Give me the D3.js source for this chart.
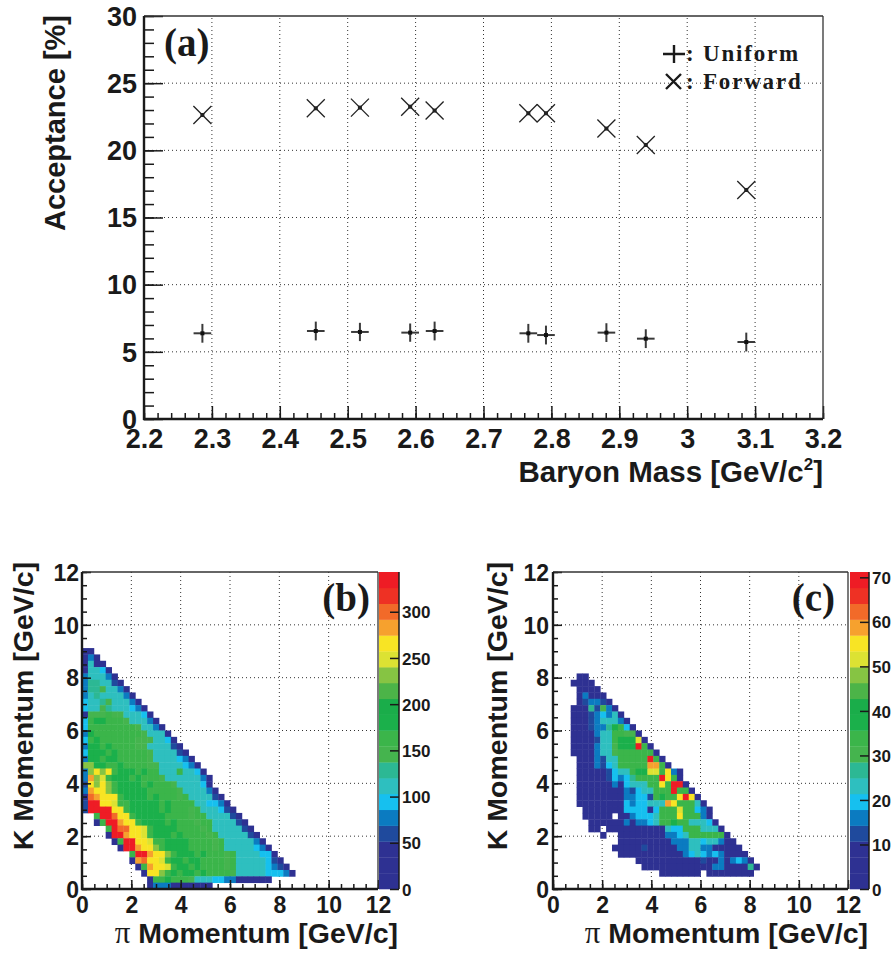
<!DOCTYPE html>
<html>
<head>
<meta charset="utf-8">
<script src="https://cdn.jsdelivr.net/npm/d3@7/dist/d3.min.js"></script>
<style>
body { margin: 0; background: #fff; }
</style>
</head>
<body>
<svg id="fig" width="893" height="958"></svg>
<script>
/////////////////////////
// data
/////////////////////////

// (a) acceptance vs baryon mass
var baryonMass = [2.286, 2.453, 2.518, 2.592, 2.628, 2.766, 2.792, 2.881, 2.939, 3.087];
var massErr    = [0.013, 0.013, 0.013, 0.013, 0.013, 0.013, 0.013, 0.013, 0.013, 0.013];
var uniformAcc = [6.38, 6.55, 6.48, 6.43, 6.55, 6.38, 6.25, 6.43, 5.98, 5.73];
var uniformErr = [0.70, 0.70, 0.68, 0.68, 0.70, 0.70, 0.70, 0.70, 0.70, 0.70];
var forwardAcc = [22.63, 23.13, 23.18, 23.25, 22.96, 22.76, 22.76, 21.62, 20.40, 17.05];
var massTicks = [2.2, 2.3, 2.4, 2.5, 2.6, 2.7, 2.8, 2.9, 3, 3.1, 3.2];
var accTicks = [0, 5, 10, 15, 20, 25, 30];

// (b),(c) pi vs K momentum, 50x50 bins of 0.24 GeV/c
// one string per y bin (top bin first), one char per x bin: colour level 0..j (base 36), "." = empty
var momTicks = [0, 2, 4, 6, 8, 10, 12];
var binW = 0.24;

var uniformTopBin = 37;
var uniformZMax = 343;
var uniformZTicks = [0, 50, 100, 150, 200, 250, 300];
var uniformRows = [
  "00",
  "040",
  "0600",
  "06650",
  "466640",
  "4776630",
  "47786640",
  "467666640",
  "5667866640",
  "56687666540",
  "088898866650",
  "59aa999866640",
  "59999999986640",
  "4a9999999986660",
  "59a9999998886650",
  "4aa9a999988666630",
  "5aaa9a999998666630",
  "4aa9aa9999986666540",
  "ddaa99a9999886666540",
  "4dfdf9aaa9a9966696650",
  "4gde9aaa9a999866666640",
  "3fdfd9aaaa9a9998666650",
  "4gffd9aaaaa999998666640",
  "0hgfff9aaaa9a99989666630",
  "3jjffe99aaaaa9a9999665540",
  "3jjjjff9aaaaa9a99989666530",
  "..9jjhff9aaaaa9999899666630",
  "..09jjgff9aaaa9a999899666630",
  "....9jhhffe9aaaa9999896666630",
  "....0jjgffe9aaa9a9999896666630",
  ".....09jjffe99aaaa9999896666640",
  "......0jjgffd9aaaa99998966666540",
  "........9jjgffd9aaa9a999896666550",
  "........0ghffe9aa9aa99998966666530",
  ".........09gffe9aa9a999989666665430",
  "..........0ffd9a9aa9a999986666655540",
  "...........099a99986665544000000",
  "...........04440000000"
];

var forwardTopBin = 33;
var forwardZMax = 71.2;
var forwardZTicks = [0, 10, 20, 30, 40, 50, 60, 70];
var forwardRows = [
  "....00",
  "...0000",
  "....0000",
  "....04000",
  "....034430",
  "...00073840",
  "...000345460",
  "...0003466640",
  "...0003447a950",
  "...000046699880",
  "...00003669aaae0",
  "...00004668aaaj90",
  "...000046689999990",
  "....000436699999j90",
  "....000435699999gg90",
  "....0000035669aaee9f40",
  "....00000354579999jf90",
  "....00000040566699f9jj0",
  "....0000000043566999j990",
  "....00000000445539a99fjf0",
  "....000000005455666gf99960",
  ".....0000000555505999e99540",
  ".....00000.0045556999f99940",
  "......00000040445699a9966650",
  "......00.00000000006559996660",
  "........0..0000000044569999990",
  "...........00000000044466566400",
  "..........0000030000044664400000",
  "...........0000000000045654540000",
  "..............00000000000300404540",
  "...............00000000000044000070",
  "..................0000000.00000000"
];

// ROOT style palette, 20 contour levels
var palette = ["#2e3192", "#2e3192", "#2e3192", "#1f4a9d", "#0b7bc1", "#16c0ef", "#2ebfbf",
  "#2cb894", "#45b44e", "#3bb54a", "#1bb04b", "#1aad4a", "#4cb448", "#86c443",
  "#dce233", "#f8e424", "#f6a12e", "#f26a29", "#ee3124", "#ee1c25"];

var SANS = "'Liberation Sans', Arial, Helvetica, sans-serif";
var SERIF = "'Liberation Serif', 'Times New Roman', serif";
var INK = "#1a1a1a";

var svg = d3.select("#fig");

/////////////////////////
// helpers
/////////////////////////

function styleAxis(g, size) {
  g.select(".domain").remove();
  g.selectAll(".tick line").attr("stroke", INK).attr("stroke-width", 1.5);
  g.attr("font-family", SANS).attr("font-size", size).attr("font-weight", "bold");
  g.selectAll("text").attr("fill", INK);
}

function grid(g, x, y, xs, ys) {
  var x0 = x.range()[0], x1 = x.range()[1], y0 = y.range()[0], y1 = y.range()[1];
  g.append("g").selectAll("line").data(xs).enter().append("line")
    .attr("x1", function(d) { return x(d); }).attr("x2", function(d) { return x(d); })
    .attr("y1", y0).attr("y2", y1);
  g.append("g").selectAll("line").data(ys).enter().append("line")
    .attr("y1", function(d) { return y(d); }).attr("y2", function(d) { return y(d); })
    .attr("x1", x0).attr("x2", x1);
  g.selectAll("line").attr("stroke", "#333").attr("stroke-width", 1)
    .attr("stroke-dasharray", "1,3");
}

function frame(g, x, y) {
  var x0 = x.range()[0], x1 = x.range()[1], y0 = y.range()[0], y1 = y.range()[1];
  g.append("line").attr("x1", x0).attr("x2", x1).attr("y1", y1).attr("y2", y1)
    .attr("stroke", "#333").attr("stroke-width", 1.3);
  g.append("line").attr("x1", x1).attr("x2", x1).attr("y1", y0).attr("y2", y1)
    .attr("stroke", "#333").attr("stroke-width", 1.3);
  g.append("line").attr("x1", x0).attr("x2", x0).attr("y1", y0 + 1).attr("y2", y1)
    .attr("stroke", INK).attr("stroke-width", 2.4);
  g.append("line").attr("x1", x0 - 1).attr("x2", x1).attr("y1", y0).attr("y2", y0)
    .attr("stroke", INK).attr("stroke-width", 2.4);
}

function axes(g, x, y, o) {
  var y0 = y.range()[0], x0 = x.range()[0];
  g.append("g").attr("transform", "translate(0," + y0 + ")")
    .call(d3.axisBottom(x).tickValues(o.xMinor).tickSize(-o.minorX).tickFormat(""))
    .call(function(s) { styleAxis(s, o.font); });
  g.append("g").attr("transform", "translate(0," + y0 + ")")
    .call(d3.axisBottom(x).tickValues(o.xMajor).tickSize(-o.majorX).tickPadding(o.xPad)
      .tickFormat(function(d) { return String(d); }))
    .call(function(s) { styleAxis(s, o.font); });
  g.append("g").attr("transform", "translate(" + x0 + ",0)")
    .call(d3.axisLeft(y).tickValues(o.yMinor).tickSize(-o.minorY).tickFormat(""))
    .call(function(s) { styleAxis(s, o.font); });
  g.append("g").attr("transform", "translate(" + x0 + ",0)")
    .call(d3.axisLeft(y).tickValues(o.yMajor).tickSize(-o.majorY).tickPadding(o.yPad)
      .tickFormat(function(d) { return String(d); }))
    .call(function(s) { styleAxis(s, o.font); s.selectAll("text").attr("dy", o.yDy); });
}

/////////////////////////
// panel (a)
/////////////////////////

var xA = d3.scaleLinear().domain([2.2, 3.2]).range([144, 823]);
var yA = d3.scaleLinear().domain([0, 30]).range([419, 16]);
var gA = svg.append("g").attr("id", "panelA");

grid(gA, xA, yA, massTicks.slice(1, -1), accTicks.slice(1, -1));
axes(gA, xA, yA, {
  xMinor: d3.range(0, 51).map(function(k) { return 2.2 + k * 0.02; }),
  xMajor: massTicks, yMinor: d3.range(0, 31), yMajor: accTicks,
  minorX: 6, majorX: 13, minorY: 10, majorY: 19, xPad: 10, yPad: 7, font: 27, yDy: "0.34em"
});
frame(gA, xA, yA);

var pts = baryonMass.map(function(m, k) {
  return { m: m, dm: massErr[k], u: uniformAcc[k], du: uniformErr[k], f: forwardAcc[k] };
});

// uniform: crosses with error bars
var gU = gA.append("g").attr("class", "uniform");
gU.selectAll(".ex").data(pts).enter().append("line")
  .attr("x1", function(d) { return xA(d.m - d.dm); }).attr("x2", function(d) { return xA(d.m + d.dm); })
  .attr("y1", function(d) { return yA(d.u); }).attr("y2", function(d) { return yA(d.u); });
gU.selectAll(".ey").data(pts).enter().append("line")
  .attr("x1", function(d) { return xA(d.m); }).attr("x2", function(d) { return xA(d.m); })
  .attr("y1", function(d) { return yA(d.u - d.du); }).attr("y2", function(d) { return yA(d.u + d.du); });
gU.selectAll("line").attr("stroke", "#3a3a3a").attr("stroke-width", 2);
gU.selectAll("rect").data(pts).enter().append("rect")
  .attr("x", function(d) { return xA(d.m) - 2; }).attr("y", function(d) { return yA(d.u) - 2; })
  .attr("width", 4).attr("height", 4).attr("fill", "#111");

// forward: x markers
var gF = gA.append("g").attr("class", "forward");
gF.selectAll("path").data(pts).enter().append("path")
  .attr("transform", function(d) { return "translate(" + xA(d.m) + "," + yA(d.f) + ")"; })
  .attr("d", "M-9,-9L9,9M-9,9L9,-9")
  .attr("stroke", "#222").attr("stroke-width", 1.3).attr("fill", "none");
gF.selectAll("rect").data(pts).enter().append("rect")
  .attr("x", function(d) { return xA(d.m) - 2; }).attr("y", function(d) { return yA(d.f) - 2; })
  .attr("width", 4).attr("height", 4).attr("fill", "#222");

// legend
var leg = gA.append("g").attr("font-family", SERIF).attr("font-weight", "bold")
  .attr("font-size", 23).attr("fill", INK).attr("letter-spacing", 1.8);
leg.append("path").attr("d", "M663,54L685,54M674,45L674,63").attr("stroke", INK).attr("stroke-width", 2.4);
leg.append("path").attr("d", "M666,74L681,89M666,89L681,74").attr("stroke", INK).attr("stroke-width", 2.4);
leg.append("text").attr("x", 686).attr("y", 61).text(": Uniform");
leg.append("text").attr("x", 686).attr("y", 89).text(": Forward");

gA.append("text").attr("x", 164).attr("y", 56).attr("font-family", SERIF)
  .attr("font-weight", "bold").attr("font-size", 39).attr("fill", INK).text("(a)");

gA.append("text").attr("transform", "translate(65,15) rotate(-90)")
  .attr("text-anchor", "end").attr("font-family", SANS).attr("font-weight", "bold")
  .attr("font-size", 29).attr("fill", INK).text("Acceptance [%]");

var tA = gA.append("text").attr("x", 823).attr("y", 482).attr("text-anchor", "end")
  .attr("font-family", SANS).attr("font-weight", "bold").attr("font-size", 29.5).attr("fill", INK);
tA.append("tspan").text("Baryon Mass [GeV/c");
tA.append("tspan").attr("font-size", 17).attr("dy", -12).text("2");
tA.append("tspan").attr("dy", 12).text("]");

/////////////////////////
// panels (b) and (c)
/////////////////////////

function heatPanel(p) {
  var x = d3.scaleLinear().domain([0, 12]).range([p.left, p.right]);
  var y = d3.scaleLinear().domain([0, 12]).range([889, 572]);
  var z = d3.scaleLinear().domain([0, p.zMax]).range([889, 572]);
  var color = d3.scaleQuantize().domain([0, p.zMax]).range(palette);
  var g = svg.append("g").attr("id", p.id);

  grid(g, x, y, momTicks.slice(1, -1), momTicks.slice(1, -1));

  var cells = [];
  p.rows.forEach(function(row, r) {
    var j = p.top - r;
    row.split("").forEach(function(ch, i) {
      if (ch === ".") return;
      cells.push({ i: i, j: j, v: (parseInt(ch, 36) + 0.5) * p.zMax / 20 });
    });
  });
  g.append("g").selectAll("rect").data(cells).enter().append("rect")
    .attr("x", function(d) { return x(d.i * binW); })
    .attr("y", function(d) { return y((d.j + 1) * binW); })
    .attr("width", function(d) { return x((d.i + 1) * binW) - x(d.i * binW) + 0.4; })
    .attr("height", function(d) { return y(d.j * binW) - y((d.j + 1) * binW) + 0.4; })
    .attr("fill", function(d) { return color(d.v); });

  var halves = d3.range(0, 25).map(function(k) { return k * 0.5; });
  axes(g, x, y, {
    xMinor: halves, xMajor: momTicks, yMinor: halves, yMajor: momTicks,
    minorX: 5, majorX: 9, minorY: 5, majorY: 9, xPad: 8, yPad: p.yPad, font: 23, yDy: "0.36em"
  });
  frame(g, x, y);

  // colour bar
  var bands = d3.range(0, 20).map(function(k) { return k * p.zMax / 20; });
  g.append("g").selectAll("rect").data(bands).enter().append("rect")
    .attr("x", p.barLeft).attr("width", p.barRight - p.barLeft)
    .attr("y", function(d) { return z(d + p.zMax / 20); })
    .attr("height", function(d) { return z(d) - z(d + p.zMax / 20) + 0.3; })
    .attr("fill", function(d) { return color(d + p.zMax / 40); });
  g.append("line").attr("x1", p.barRight).attr("x2", p.barRight).attr("y1", 572).attr("y2", 889)
    .attr("stroke", INK).attr("stroke-width", 1.5);
  g.append("g").attr("transform", "translate(" + p.barRight + ",0)")
    .call(d3.axisRight(z).tickValues(p.zTicks).tickSize(-9).tickPadding(3))
    .call(function(s) { styleAxis(s, 17); s.selectAll("text").attr("dy", "0.36em"); });

  g.append("text").attr("x", p.labelX).attr("y", 611).attr("text-anchor", "end")
    .attr("font-family", SERIF).attr("font-weight", "bold").attr("font-size", 39)
    .attr("fill", INK).text(p.label);

  g.append("text").attr("transform", "translate(" + p.yTitleX + ",562) rotate(-90)")
    .attr("text-anchor", "end").attr("font-family", SANS).attr("font-weight", "bold")
    .attr("font-size", 28.5).attr("fill", INK).text("K Momentum [GeV/c]");

  var tx = g.append("text").attr("x", p.xTitleEnd).attr("y", 943).attr("text-anchor", "end")
    .attr("font-family", SANS).attr("font-weight", "bold").attr("font-size", 28.5).attr("fill", INK);
  tx.append("tspan").attr("font-family", SERIF).attr("font-weight", "normal").attr("font-size", 31).text("π");
  tx.append("tspan").text(" Momentum [GeV/c]");
}

heatPanel({
  id: "panelB", left: 82, right: 378, barLeft: 379, barRight: 399,
  rows: uniformRows, top: uniformTopBin, zMax: uniformZMax, zTicks: uniformZTicks,
  label: "(b)", labelX: 370, yTitleX: 33, xTitleEnd: 398, yPad: 3
});
heatPanel({
  id: "panelC", left: 553, right: 848, barLeft: 850, barRight: 869,
  rows: forwardRows, top: forwardTopBin, zMax: forwardZMax, zTicks: forwardZTicks,
  label: "(c)", labelX: 835, yTitleX: 507, xTitleEnd: 868, yPad: 4
});
</script>
</body>
</html>
